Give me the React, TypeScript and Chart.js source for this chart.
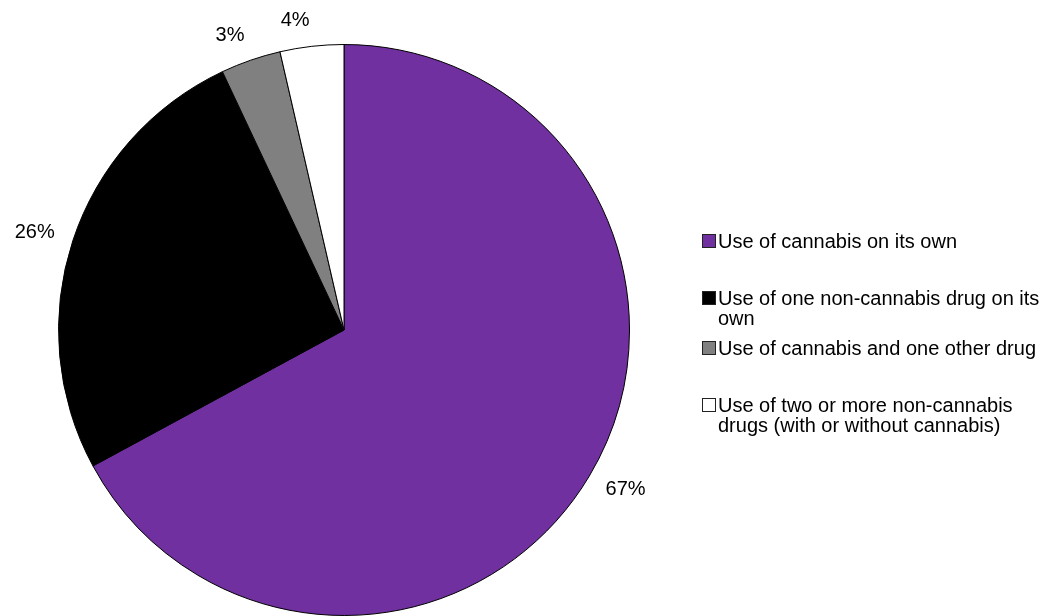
import React, { useEffect, useRef } from "react";
import { Chart, registerables } from "chart.js";

Chart.register(...registerables);

const categories: string[][] = [
  ["Use of cannabis on its own"],
  ["Use of one non-cannabis drug on its", "own"],
  ["Use of cannabis and one other drug"],
  ["Use of two or more non-cannabis", "drugs (with or without cannabis)"],
];
const shares: number[] = [67.1, 25.9, 3.4, 3.6];
const sliceColors: string[] = ["#7030A0", "#000000", "#808080", "#FFFFFF"];

const FONT = '"Liberation Sans", Arial, sans-serif';

const outsideLabels = {
  id: "outsideLabels",
  afterDatasetsDraw(chart: any) {
    const ctx = chart.ctx;
    const meta = chart.getDatasetMeta(0);
    const data = chart.data.datasets[0].data as number[];
    ctx.save();
    ctx.font = `20px ${FONT}`;
    ctx.fillStyle = "#000000";
    ctx.textAlign = "center";
    ctx.textBaseline = "middle";
    meta.data.forEach((arc: any, i: number) => {
      const p = arc.getProps(["x", "y", "startAngle", "endAngle", "outerRadius"], true);
      const mid = (p.startAngle + p.endAngle) / 2;
      const text = Math.round(data[i]) + "%";
      const w = ctx.measureText(text).width;
      const h = 14;
      const cx = Math.cos(mid);
      const sy = Math.sin(mid);
      const dist = p.outerRadius + 19;
      const x = p.x + cx * dist + Math.sign(cx) * w / 2;
      const y = p.y + sy * dist + sy * h / 2;
      ctx.fillText(text, x, y);
    });
    ctx.restore();
  },
};

export default function App() {
  const canvasRef = useRef<HTMLCanvasElement | null>(null);

  useEffect(() => {
    const canvas = canvasRef.current;
    if (!canvas) return;
    const chart = new Chart(canvas, {
      type: "pie",
      data: {
        labels: categories.map((c) => c.join(" ")),
        datasets: [
          {
            data: shares,
            backgroundColor: sliceColors,
            borderColor: "#000000",
            borderWidth: 1,
          },
        ],
      },
      options: {
        responsive: false,
        maintainAspectRatio: false,
        animation: false,
        layout: { padding: { top: 44, bottom: 0, left: 58, right: 412 } },
        plugins: {
          legend: { display: false },
          tooltip: { enabled: false },
        },
      },
      plugins: [outsideLabels],
    });
    return () => chart.destroy();
  }, []);

  const legendGaps = [231, 37, 10, 37];

  return (
    <div style={{ position: "absolute", left: 0, top: 0, width: 1042, height: 616, background: "#fff" }}>
      <canvas ref={canvasRef} width={1042} height={616} style={{ position: "absolute", left: 0, top: 0 }} />
      <div
        style={{
          position: "absolute",
          left: 702,
          top: 0,
          fontFamily: FONT,
          fontSize: 20,
          lineHeight: "20px",
          color: "#000",
        }}
      >
        {categories.map((lines, i) => (
          <div key={i} style={{ display: "flex", alignItems: "flex-start", marginTop: legendGaps[i] }}>
            <div
              style={{
                width: 12,
                height: 12,
                marginTop: 3,
                marginRight: 2,
                background: sliceColors[i],
                border: "1px solid #222",
                flex: "none",
              }}
            />
            <div style={{ whiteSpace: "nowrap" }}>
              {lines.map((l, j) => (
                <div key={j}>{l}</div>
              ))}
            </div>
          </div>
        ))}
      </div>
    </div>
  );
}
